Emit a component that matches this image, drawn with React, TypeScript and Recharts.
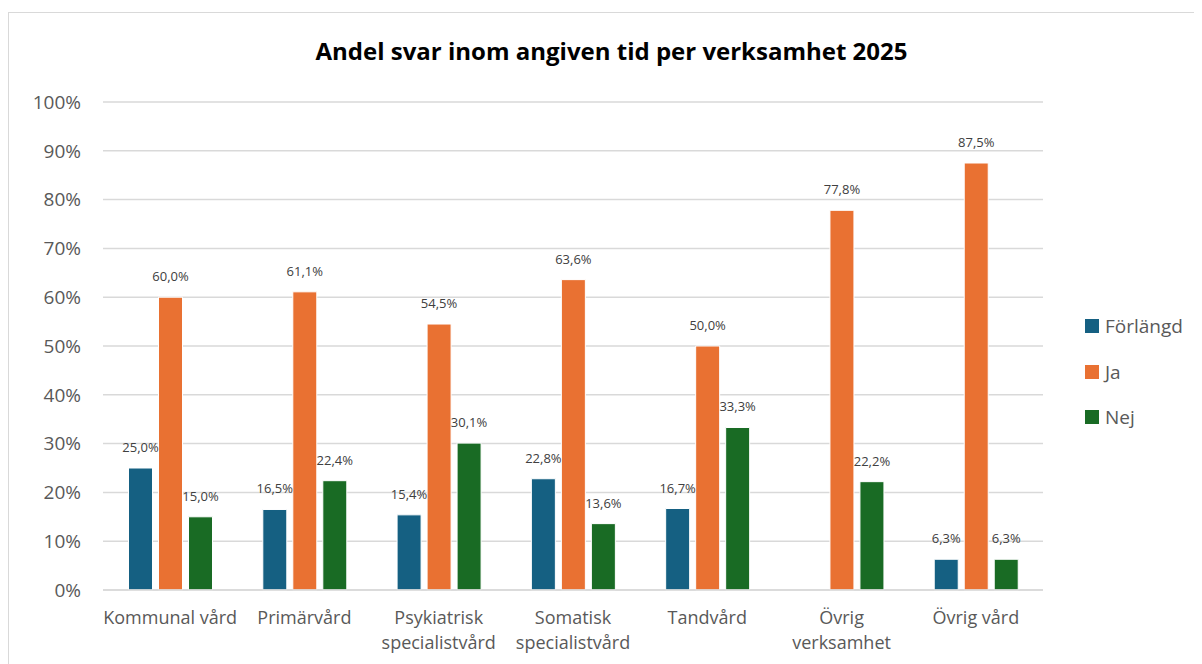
import { Bar, BarChart, CartesianGrid, LabelList, XAxis, YAxis } from "recharts";

const categories = [
  "Kommunal vård",
  "Primärvård",
  "Psykiatrisk specialistvård",
  "Somatisk specialistvård",
  "Tandvård",
  "Övrig verksamhet",
  "Övrig vård",
];

const forlangd = [25.0, 16.5, 15.4, 22.8, 16.7, null, 6.3];
const ja = [60.0, 61.1, 54.5, 63.6, 50.0, 77.8, 87.5];
const nej = [15.0, 22.4, 30.1, 13.6, 33.3, 22.2, 6.3];

const yTicks = [0, 10, 20, 30, 40, 50, 60, 70, 80, 90, 100];

const seriesInfo = [
  { key: "forlangd", name: "Förlängd", color: "#156082" },
  { key: "ja", name: "Ja", color: "#E97132" },
  { key: "nej", name: "Nej", color: "#196B24" },
];

const data = categories.map((name, i) => ({
  name,
  forlangd: forlangd[i],
  ja: ja[i],
  nej: nej[i],
}));

const FONT = "'Open Sans', 'Noto Sans', sans-serif";

const pct = (v: unknown) =>
  v == null ? "" : `${Number(v).toFixed(1).replace(".", ",")}%`;

function CategoryTick(props: any) {
  const { x, y, payload } = props;
  const text: string = payload.value;
  const lines = text.length > 14 ? text.split(" ") : [text];
  return (
    <text x={x} y={y} textAnchor="middle" fill="#595959" fontSize={18} fontFamily={FONT}>
      {lines.map((line, i) => (
        <tspan key={i} x={x} dy={i === 0 ? 26 : 25}>
          {line}
        </tspan>
      ))}
    </text>
  );
}

export default function App() {
  return (
    <div
      style={{
        position: "relative",
        marginTop: 4,
        width: 1193,
        height: 651,
        borderTop: "1px solid #d9d9d9",
        borderLeft: "1px solid #d9d9d9",
        fontFamily: FONT,
        overflow: "hidden",
      }}
    >
      <div
        style={{
          position: "absolute",
          top: 21,
          left: 0,
          width: 1205,
          textAlign: "center",
          fontSize: 24,
          fontWeight: 700,
          color: "#000",
        }}
      >
        Andel svar inom angiven tid per verksamhet 2025
      </div>
      <BarChart
        width={1193}
        height={651}
        data={data}
        margin={{ top: 89, right: 159, bottom: 0, left: 0 }}
        barCategoryGap="19%"
        barGap={6}
      >
        <CartesianGrid vertical={false} stroke="#d9d9d9" strokeWidth={1.5} />
        <XAxis
          dataKey="name"
          axisLine={{ stroke: "#d9d9d9", strokeWidth: 1.5 }}
          tickLine={false}
          tick={<CategoryTick />}
          interval={0}
          height={74}
        />
        <YAxis
          width={94}
          domain={[0, 100]}
          ticks={yTicks}
          axisLine={false}
          tickLine={false}
          tickSize={0}
          tickMargin={22}
          tickFormatter={(v) => `${v}%`}
          tick={{ fill: "#595959", fontSize: 19, fontFamily: FONT }}
        />
        {seriesInfo.map((s) => (
          <Bar
            key={s.key}
            dataKey={s.key}
            name={s.name}
            fill={s.color}
            stroke="#ffffff"
            strokeWidth={1}
            isAnimationActive={false}
          >
            <LabelList
              dataKey={s.key}
              position="top"
              offset={16}
              formatter={pct}
              style={{ fill: "#404040", fontSize: 13, fontFamily: FONT }}
            />
          </Bar>
        ))}
      </BarChart>
      <div style={{ position: "absolute", left: 1076, top: 300 }}>
        {seriesInfo.map((s, i) => (
          <div
            key={s.key}
            style={{
              position: "absolute",
              top: i * 45.5,
              display: "flex",
              alignItems: "center",
              whiteSpace: "nowrap",
            }}
          >
            <span style={{ width: 14, height: 14, background: s.color, display: "inline-block", marginRight: 6 }} />
            <span style={{ fontSize: 19, color: "#595959" }}>{s.name}</span>
          </div>
        ))}
      </div>
    </div>
  );
}
